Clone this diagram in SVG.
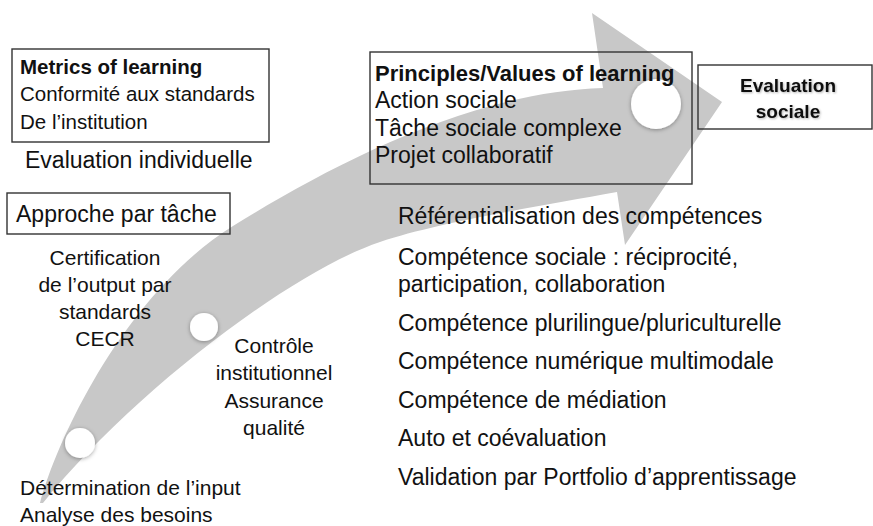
<svg xmlns="http://www.w3.org/2000/svg" width="873" height="526" viewBox="0 0 873 526">
<defs>
<filter id="sh" x="-50%" y="-50%" width="200%" height="200%">
<feDropShadow dx="0" dy="1" stdDeviation="2" flood-color="#000" flood-opacity="0.35"/>
</filter>
<filter id="tsh" x="-10%" y="-30%" width="120%" height="160%">
<feDropShadow dx="1" dy="1" stdDeviation="1" flood-color="#000" flood-opacity="0.3"/>
</filter>
</defs>
<style>
text{font-family:"Liberation Sans",Arial,sans-serif;fill:#111}
.box{fill:none;stroke:#333;stroke-width:1.4}
.b{font-weight:bold}
.s20{font-size:20.5px}
.s21{font-size:21px}
.s23{font-size:23px}
.mid{text-anchor:middle}
.dot{fill:#fff;filter:url(#sh)}
</style>
<rect width="873" height="526" fill="#fff"/>
<g id="connectors">
<path d="M40,503 C60,430 130,290 233,226 C330,166 470,92 603,88 L592,13 L722,102 L625,245 L617,192 C540,206 440,222 380,242 C290,272 130,395 43,503 Z" fill="#c8c8c8"/>
</g>
<g id="dot1"><circle class="dot" cx="80" cy="443" r="15"/></g>
<g id="dot2"><circle class="dot" cx="204" cy="327" r="14"/></g>
<g id="dot3"><circle class="dot" cx="656" cy="104" r="25"/></g>
<g id="metrics">
<rect class="box" x="12" y="49" width="257" height="93"/>
<text class="s20 b" x="20" y="74">Metrics of learning</text>
<text class="s20" x="20" y="101">Conformité aux standards</text>
<text class="s20" x="20" y="129">De l’institution</text>
</g>
<g id="eval-indiv"><text class="s23" x="25" y="168">Evaluation individuelle</text></g>
<g id="approche">
<rect class="box" x="7" y="193" width="223" height="41"/>
<text class="s23" x="16" y="222">Approche par tâche</text>
</g>
<g id="certification">
<text class="s21 mid" x="105" y="265">Certification</text>
<text class="s21 mid" x="105" y="292">de l’output par</text>
<text class="s21 mid" x="105" y="319">standards</text>
<text class="s21 mid" x="105" y="346">CECR</text>
</g>
<g id="controle">
<text class="s21 mid" x="274" y="353">Contrôle</text>
<text class="s21 mid" x="274" y="380">institutionnel</text>
<text class="s21 mid" x="274" y="408">Assurance</text>
<text class="s21 mid" x="274" y="435">qualité</text>
</g>
<g id="determination">
<text class="s21" x="20" y="495">Détermination de l’input</text>
<text class="s21" x="20" y="522">Analyse des besoins</text>
</g>
<g id="principles">
<rect class="box" x="370" y="52" width="322" height="132"/>
<text class="b" style="font-size:22px" x="375" y="81">Principles/Values of learning</text>
<text class="s23" x="375" y="108">Action sociale</text>
<text class="s23" x="375" y="136">Tâche sociale complexe</text>
<text class="s23" x="375" y="163">Projet collaboratif</text>
</g>
<g id="eval-sociale">
<rect class="box" x="698" y="65" width="174" height="64"/>
<text class="b mid" style="font-size:19px;filter:url(#tsh)" x="788" y="92">Evaluation</text>
<text class="b mid" style="font-size:19px;filter:url(#tsh)" x="788" y="118">sociale</text>
</g>
<g id="competences">
<text class="s23" x="398" y="224">Référentialisation des compétences</text>
<text class="s23" x="398" y="265">Compétence sociale : réciprocité,</text>
<text class="s23" x="398" y="292">participation, collaboration</text>
<text class="s23" x="398" y="331">Compétence plurilingue/pluriculturelle</text>
<text class="s23" x="398" y="369">Compétence numérique multimodale</text>
<text class="s23" x="398" y="408">Compétence de médiation</text>
<text class="s23" x="398" y="446">Auto et coévaluation</text>
<text class="s23" x="398" y="485">Validation par Portfolio d’apprentissage</text>
</g>
</svg>
